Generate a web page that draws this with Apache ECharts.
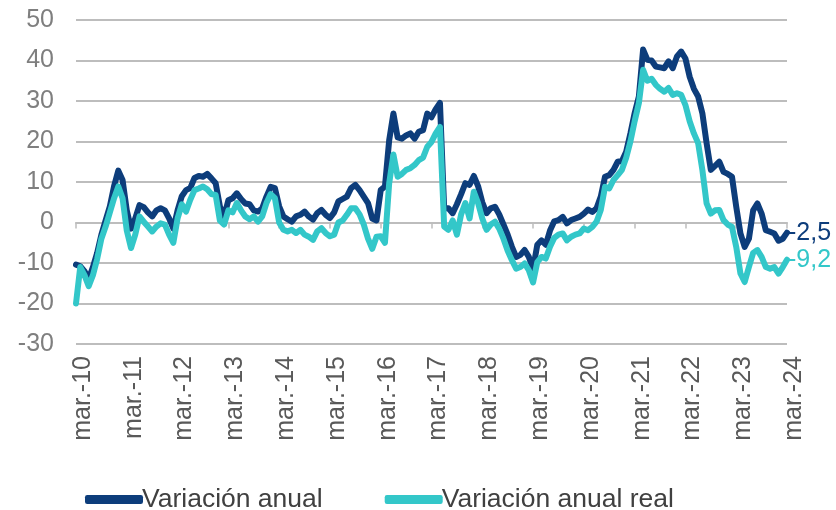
<!DOCTYPE html>
<html>
<head>
<meta charset="utf-8">
<script src="https://cdn.jsdelivr.net/npm/echarts@6/dist/echarts.min.js"></script>
<style>
  html, body { margin: 0; padding: 0; background: #ffffff; }
  #chart { width: 836px; height: 510px; }
</style>
</head>
<body>
<div id="chart"></div>
<script>
// Monthly series, March 2010 to March 2024
const MONTH_NAMES = ['ene.', 'feb.', 'mar.', 'abr.', 'may.', 'jun.', 'jul.', 'ago.', 'sep.', 'oct.', 'nov.', 'dic.'];
const START_YEAR = 2010;
const START_MONTH = 2; // marzo
const N_POINTS = 169;

const categories = [];
for (let i = 0; i < N_POINTS; i++) {
  const k = START_MONTH + i;
  const yy = String((START_YEAR + Math.floor(k / 12)) % 100).padStart(2, '0');
  categories.push(MONTH_NAMES[k % 12] + '-' + yy);
}

const yTicks = { min: -30, max: 50, interval: 10 };

const variacionAnual = [
  -10.4, -10.8, -12, -14, -11, -7.5, -3, 0.5, 4, 9, 12.8, 10.5,
  3, -1.5, 1, 4.3, 3.8, 2.5, 1.5, 3, 3.5, 3, 1, -1.5,
  3, 6.5, 8, 8.5, 11, 11.5, 11.3, 12, 10.9, 9.7, 4, 1.5,
  5.5, 6, 7.2, 5.8, 4.7, 4.5, 3, 2.7, 3.5, 6.4, 8.8, 8.5,
  4, 1.5, 0.8, 0.2, 1.5, 1.9, 2.7, 1.5, 0.7, 2.3, 3.1, 1.9,
  1.1, 2.5, 5.2, 5.8, 6.4, 8.5, 9.3, 8, 6.4, 4.8, 1, 0.5,
  8, 8.9, 20.3, 26.9, 21, 20.7, 21.5, 22, 20.7, 22.4, 22.8, 26.9,
  26, 28, 29.5, 3.5, 3.5, 2.3, 4.5, 7, 9.7, 9.3, 11.5, 9,
  5, 2.3, 3.5, 3.9, 2, -0.5, -3, -6, -8.5, -8, -6.8, -8.5,
  -11.5, -5.5, -4.4, -5.5, -2, 0.3, 0.6, 1.4, -0.2, 0.6, 1, 1.4,
  2.2, 3.2, 2.6, 3.5, 6.4, 11.3, 11.7, 13, 15, 15.2, 17.5, 22,
  27, 31.1, 42.7, 40.2, 40, 38.5, 38.3, 38.1, 39.8, 38.1, 41, 42.2,
  40.5, 36, 33, 31.1, 27, 19.6, 13, 14, 15, 12.5, 12, 11.3,
  3.9, -2.7, -6, -4, 3, 4.7, 2.2, -1.9, -2.3, -2.7, -4.5, -4,
  -2.5
];

const variacionAnualReal = [
  -20, -11, -13, -15.7, -13, -9, -4, -1, 2.5, 6, 8.9, 6,
  -2, -6.3, -3, 1.5, 0.2, -1, -2.2, -1, -0.2, -0.5, -3, -5,
  1, 4.5, 2.7, 5.6, 8, 8.4, 8.9, 8.2, 7, 6.8, 0.5, -0.5,
  3, 2.5, 4.8, 3, 1.5, 0.8, 1.5, 0.2, 1.5, 4.8, 7, 6,
  0, -1.8, -2.2, -1.8, -2.6, -1.8, -3, -3.5, -4.3, -2.2, -1.4, -2.6,
  -3.4, -3, 0, 0.5, 1.9, 3.5, 3.5, 2, -0.5, -4, -6.5, -3.5,
  -3.4, -5, 9.7, 16.8, 11.3, 12, 13, 13.4, 14.2, 15.4, 16, 18.7,
  19.9, 22, 23.6, -1, -1.8, 0.5, -3, 2, 4.8, 1, 7.6, 4.8,
  1, -1.8, -0.5, 0.2, -1.5, -4, -7, -9.3, -11.4, -11, -10.1, -11.8,
  -14.8, -9.8, -8.5, -8.9, -6, -3.8, -3, -2.7, -4.4, -3.5, -3, -2.7,
  -1.5, -1.9, -1.1, 0.2, 3.1, 8.8, 8.4, 10.5, 11.7, 13, 16, 20,
  25, 29.5, 37.7, 35, 35.5, 34, 33, 32.3, 33.2, 31.5, 31.9, 31.5,
  29, 25, 22, 19.6, 13, 4.7, 2.2, 3, 3.1, 0.6, -0.5, -1.1,
  -6, -12.6, -14.7, -11, -7.5, -6.8, -8.5, -11, -11.4, -11, -12.6, -11,
  -9.2
];

const seriesNames = ['Variación anual', 'Variación anual real'];
const seriesColors = ['#0d3d7b', '#33c7c9'];

const FONT = '"Liberation Sans", Arial, sans-serif';
const GRID_GRAY = '#bdbdbd';

const chart = echarts.init(document.getElementById('chart'), null, { renderer: 'canvas' });

const fmtComma = (v) => Number(v).toFixed(1).replace('.', ',');

chart.setOption({
  animation: false,
  backgroundColor: '#ffffff',
  grid: [
    // plotting area
    { left: 76, right: 49, top: 20, bottom: 166, containLabel: false },
    // date labels, set slightly to the right of their ticks
    { left: 83, right: 42, top: 20, bottom: 166, containLabel: false }
  ],
  legend: {
    left: 80,
    top: 481,
    icon: 'roundRect',
    itemWidth: 58,
    itemHeight: 9,
    itemGap: 62,
    textStyle: { fontFamily: FONT, fontSize: 26.5, color: '#404040', padding: [0, 0, 0, -6] },
    data: seriesNames
  },
  xAxis: [
    {
      type: 'category',
      gridIndex: 0,
      data: categories,
      boundaryGap: false,
      position: 'bottom',
      axisLine: { show: true, onZero: true, lineStyle: { color: GRID_GRAY, width: 2 } },
      axisTick: { show: true, interval: 11, length: 6, lineStyle: { color: GRID_GRAY, width: 1.5 } },
      axisLabel: { show: false },
      splitLine: { show: false }
    },
    {
      type: 'category',
      gridIndex: 1,
      data: categories,
      boundaryGap: false,
      position: 'bottom',
      axisLine: { show: false, onZero: false },
      axisTick: { show: false },
      axisLabel: {
        show: true,
        interval: 11,
        rotate: 90,
        margin: 12,
        fontFamily: FONT,
        fontSize: 25,
        color: '#595959'
      },
      splitLine: { show: false }
    }
  ],
  yAxis: [
    {
      type: 'value',
      gridIndex: 0,
      min: yTicks.min,
      max: yTicks.max,
      interval: yTicks.interval,
      axisLine: { show: false },
      axisTick: { show: false },
      axisLabel: { fontFamily: FONT, fontSize: 25, color: '#7f7f7f', margin: 22 },
      splitLine: { show: true, lineStyle: { color: GRID_GRAY, width: 2 } }
    },
    {
      type: 'value',
      gridIndex: 1,
      min: yTicks.min,
      max: yTicks.max,
      show: false,
      splitLine: { show: false }
    }
  ],
  series: [
    {
      name: seriesNames[0],
      type: 'line',
      xAxisIndex: 0,
      yAxisIndex: 0,
      data: variacionAnual,
      showSymbol: false,
      smooth: false,
      color: seriesColors[0],
      lineStyle: { width: 6, color: seriesColors[0], join: 'round', cap: 'round' },
      endLabel: {
        show: true,
        distance: 1,
        formatter: (p) => fmtComma(p.value),
        fontFamily: FONT,
        fontSize: 25,
        color: seriesColors[0]
      },
      z: 2
    },
    {
      name: seriesNames[1],
      type: 'line',
      xAxisIndex: 0,
      yAxisIndex: 0,
      data: variacionAnualReal,
      showSymbol: false,
      smooth: false,
      color: seriesColors[1],
      lineStyle: { width: 6, color: seriesColors[1], join: 'round', cap: 'round' },
      endLabel: {
        show: true,
        distance: 1,
        formatter: (p) => fmtComma(p.value),
        fontFamily: FONT,
        fontSize: 25,
        color: seriesColors[1]
      },
      z: 3
    }
  ]
});
</script>
</body>
</html>
